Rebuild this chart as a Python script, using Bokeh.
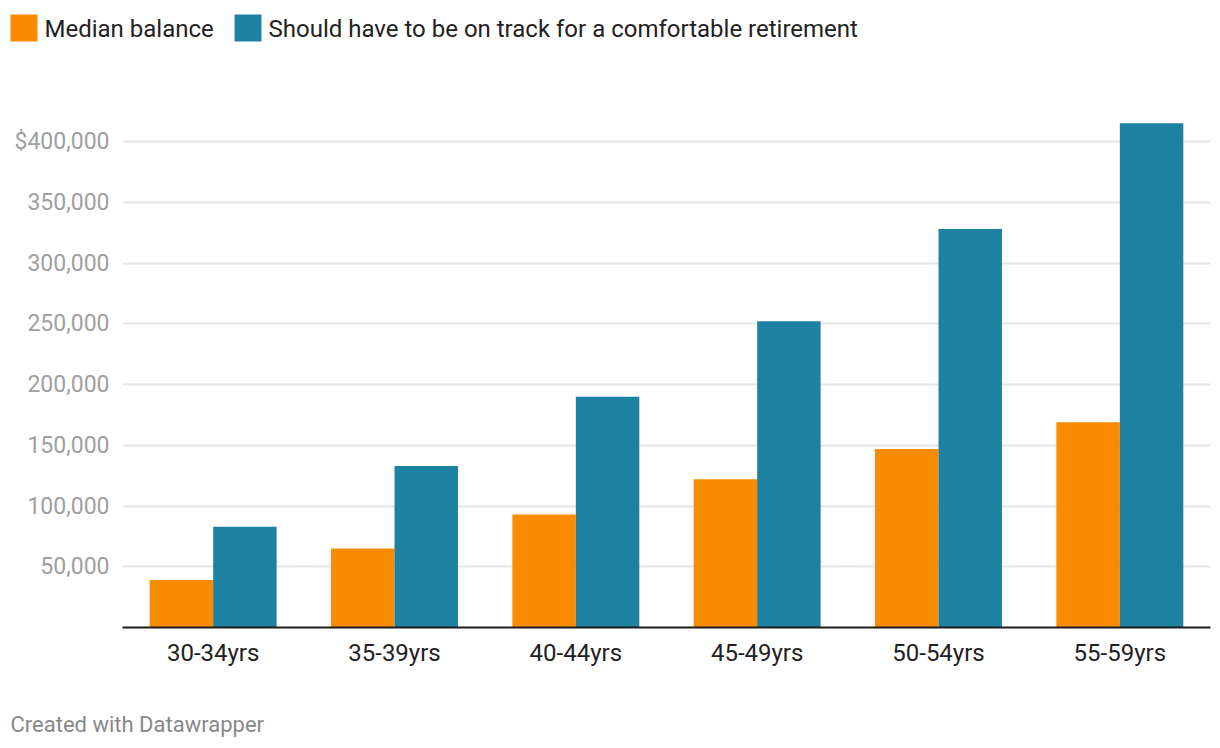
from bokeh.plotting import figure
from bokeh.layouts import column, row
from bokeh.models import FactorRange, Range1d, FixedTicker, NumeralTickFormatter, ColumnDataSource
from bokeh.core.properties import value
from bokeh.transform import dodge
from bokeh.embed import file_html
from bokeh.resources import INLINE

categories = ["30-34yrs", "35-39yrs", "40-44yrs", "45-49yrs", "50-54yrs", "55-59yrs"]
median_balance = [39000, 65000, 93000, 122000, 147000, 169000]
should_have = [83000, 133000, 190000, 252000, 328000, 415000]
y_ticks = [50000, 100000, 150000, 200000, 250000, 300000, 350000, 400000]
series_names = ["Median balance", "Should have to be on track for a comfortable retirement"]
footer_text = "Created with Datawrapper"

ORANGE = "#f98b00"
BLUE = "#1d81a2"
FONT = "Roboto"
W = 1220


def blank(height):
    f = figure(width=W, height=height, output_backend="svg", toolbar_location=None,
               x_range=Range1d(0, W), y_range=Range1d(height, 0),
               min_border=0, min_border_left=0, min_border_right=0,
               min_border_top=0, min_border_bottom=0)
    f.axis.visible = False
    f.grid.visible = False
    f.outline_line_color = None
    return f


# ---- legend strip ----
leg = blank(60)
sw_left = [10, 234]
sw_colors = [ORANGE, BLUE]
leg.quad(left=sw_left, right=[x + 27 for x in sw_left], top=[14, 14], bottom=[41, 41],
         fill_color=sw_colors, line_color=None)
leg.text(x=[x + 34 for x in sw_left], y=[28, 28], text=series_names,
         text_font=value(FONT), text_font_size="24px", text_color="#222222",
         text_baseline="middle", text_align="left")

# ---- main chart ----
src = ColumnDataSource(dict(cat=categories, med=median_balance, should=should_have))
p = figure(width=W, height=640, output_backend="svg", toolbar_location=None,
           x_range=FactorRange(*categories, range_padding=0),
           y_range=Range1d(0, 466667),
           min_border_left=122, min_border_right=10, min_border_top=0, min_border_bottom=73)
p.outline_line_color = None

bw = 0.35
p.vbar(x=dodge("cat", -bw / 2, range=p.x_range), top="med", width=bw, source=src,
       fill_color=ORANGE, line_color=None)
p.vbar(x=dodge("cat", bw / 2, range=p.x_range), top="should", width=bw, source=src,
       fill_color=BLUE, line_color=None)

p.yaxis.ticker = FixedTicker(ticks=y_ticks)
p.yaxis.formatter = NumeralTickFormatter(format="0,0")
p.yaxis.major_label_overrides = {400000: "$400,000"}
p.yaxis.axis_line_color = None
p.yaxis.major_tick_line_color = None
p.yaxis.minor_tick_line_color = None
p.yaxis.major_label_standoff = 7
p.yaxis.major_label_text_font = FONT
p.yaxis.major_label_text_font_size = "23px"
p.yaxis.major_label_text_color = "#a0a0a0"
p.ygrid.grid_line_color = "#e6e6e6"
p.ygrid.grid_line_width = 2
p.xgrid.grid_line_color = None

p.xaxis.axis_line_color = "#1d1d1d"
p.xaxis.axis_line_width = 2
p.xaxis.major_tick_line_color = None
p.xaxis.minor_tick_line_color = None
p.xaxis.major_label_standoff = 5
p.xaxis.major_label_text_font = FONT
p.xaxis.major_label_text_font_size = "24px"
p.xaxis.major_label_text_color = "#222222"

# ---- footer strip ----
foot = blank(48)
foot.text(x=[10], y=[24], text=[footer_text], text_font=value(FONT), text_font_size="22px",
          text_color="#888888", text_baseline="middle", text_align="left")

layout = column(row(leg), row(p), row(foot), spacing=0)
open("out.html", "w").write(file_html(layout, INLINE))
